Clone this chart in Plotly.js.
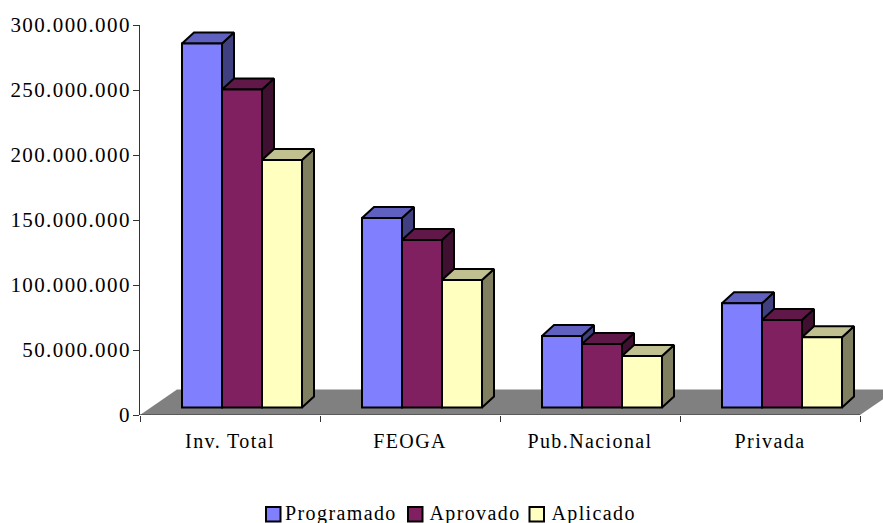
<!DOCTYPE html>
<html>
<head>
<meta charset="utf-8">
<script src="https://cdn.plot.ly/plotly-3.0.1.min.js"></script>
<style>
html,body{margin:0;padding:0;background:#fff;}
#chart{width:883px;height:523px;}
#chart text{letter-spacing:1.4px;}
</style>
</head>
<body>
<div id="chart"></div>
<script>
const categories = ["Inv. Total", "FEOGA", "Pub.Nacional", "Privada"];
const programado = [280000000, 145800000, 55000000, 80200000];
const aprovado   = [244600000, 128800000, 48800000, 67300000];
const aplicado   = [190400000, 98000000, 39600000, 54000000];
const yTickVals  = [0, 50000000, 100000000, 150000000, 200000000, 250000000, 300000000];

const seriesDefs = [
  {name:"Programado", values:programado, front:"#8080FF", top:"#6060C0", side:"#404080", swatchPx:266, textPx:290},
  {name:"Aprovado",   values:aprovado,   front:"#802060", top:"#601848", side:"#401030", swatchPx:408, textPx:432.5},
  {name:"Aplicado",   values:aplicado,   front:"#FFFFC0", top:"#C0C090", side:"#808060", swatchPx:529.5, textPx:554.5}
];

// scale helpers: plot is 720px per 4 categories and 390px per 300M
const PXX = 1/180, PXY = 300000000/390;
const xMax = 4 + 23*PXX;
const barW = 40*PXX, depthX = 12*PXX, depthY = 11*PXY;
const baseY = 7.5*PXY, shiftX = 12*PXX;
const floorX = 37*PXX, floorY = 25.5*PXY;
const centers = categories.map((_, i) => i + 0.5);

const traces = [];
// floor
traces.push({type:"scatter", mode:"lines", xaxis:"x", yaxis:"y", showlegend:false, hoverinfo:"skip",
  x:[0, floorX, 4+floorX, 4, 0], y:[0, floorY, floorY, 0, 0], fill:"toself",
  fillcolor:"#808080", line:{color:"#808080", width:0}});
// x axis line along the front edge of the floor
traces.push({type:"scatter", mode:"lines", xaxis:"x", yaxis:"y", showlegend:false, hoverinfo:"skip",
  x:[0, 4], y:[0, 0], cliponaxis:false, line:{color:"#333", width:1}});

// top and side faces, left to right so later bars cover earlier ones
categories.forEach((_, c) => {
  seriesDefs.forEach((s, k) => {
    const x0 = centers[c] + shiftX + (k-1.5)*barW;
    const x1 = x0 + barW;
    const yt = baseY + s.values[c];
    traces.push({type:"scatter", mode:"lines", xaxis:"x", yaxis:"y", showlegend:false, hoverinfo:"skip",
      x:[x1, x1+depthX, x1+depthX, x1, x1], y:[baseY, baseY+depthY, yt+depthY, yt, baseY],
      fill:"toself", fillcolor:s.side, line:{color:"#000", width:2, simplify:false}});
    traces.push({type:"scatter", mode:"lines", xaxis:"x", yaxis:"y", showlegend:false, hoverinfo:"skip",
      x:[x0, x0+depthX, x1+depthX, x1, x0], y:[yt, yt+depthY, yt+depthY, yt, yt],
      fill:"toself", fillcolor:s.top, line:{color:"#000", width:2, simplify:false}});
  });
});

// front faces
seriesDefs.forEach(s => {
  traces.push({type:"bar", name:s.name, xaxis:"x2", yaxis:"y2", showlegend:false,
    x:centers.map(v => v + shiftX), y:s.values, base:categories.map(() => baseY),
    marker:{color:s.front, line:{color:"#000", width:2}}});
});

const fontFam = '"Liberation Serif","Times New Roman",serif';
const plotL = 140, plotW = 743, plotB = 415, plotH = 390;
const px = v => (v - plotL)/plotW;
const py = v => (plotB - v)/plotH;

const layout = {
  width:883, height:523, autosize:false,
  margin:{l:plotL, r:0, t:25, b:108, pad:0},
  paper_bgcolor:"#fff", plot_bgcolor:"rgba(0,0,0,0)",
  separators:",.",
  font:{family:fontFam, size:21, color:"#000"},
  barmode:"group", bargap:1/3, bargroupgap:0,
  showlegend:false,
  xaxis:{range:[0, xMax], showline:false, zeroline:false, showgrid:false, fixedrange:true,
    tickmode:"array", tickvals:centers, ticktext:categories, ticks:"", ticklabelstandoff:12,
    tickfont:{family:fontFam, size:20, color:"#000"},
    minor:{tick0:0, dtick:1, ticks:"outside", ticklen:6, tickwidth:1, tickcolor:"#333", showgrid:false}},
  yaxis:{range:[0, 300000000], showline:true, linecolor:"#333", linewidth:1, zeroline:false, showgrid:false, fixedrange:true,
    tickmode:"array", tickvals:yTickVals, tickformat:",d", ticks:"outside", ticklen:6, tickwidth:1, tickcolor:"#333",
    ticklabelstandoff:-2, tickfont:{family:fontFam, size:21, color:"#000"}},
  xaxis2:{overlaying:"x", range:[0, xMax], visible:false, fixedrange:true},
  yaxis2:{overlaying:"y", range:[0, 300000000], visible:false, fixedrange:true},
  // legend drawn as real text plus swatches, matching the tight spacing of the reference
  annotations:seriesDefs.map(s => ({text:s.name, xref:"paper", yref:"paper", x:px(s.textPx), y:py(513), xanchor:"left", yanchor:"middle",
    showarrow:false, font:{family:fontFam, size:20, color:"#000"}})),
  shapes:seriesDefs.map(s => ({type:"rect", xref:"paper", yref:"paper", x0:px(s.swatchPx), x1:px(s.swatchPx+14.5), y0:py(507), y1:py(521.5),
    fillcolor:s.front, line:{color:"#000", width:2}}))
};
Plotly.newPlot("chart", traces, layout, {displayModeBar:false, staticPlot:true});
</script>
</body>
</html>
